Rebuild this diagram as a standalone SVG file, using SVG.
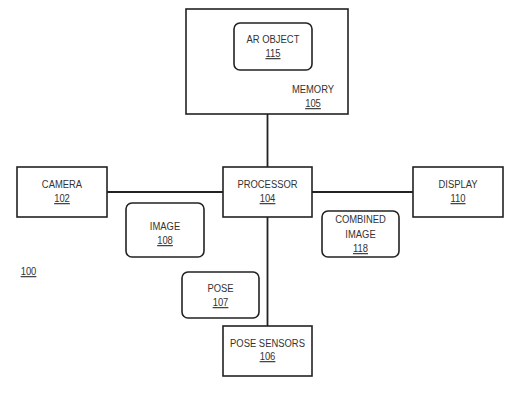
<svg xmlns="http://www.w3.org/2000/svg" width="525" height="393" viewBox="0 0 525 393">
<style>
.box{fill:#fff;stroke:#222;stroke-width:1.6}
.line{stroke:#222;stroke-width:1.8;fill:none}
text{font-family:"Liberation Sans",Arial,sans-serif;font-size:11.5px;fill:#333;text-anchor:middle}
.u{text-decoration:underline}
</style>
<rect width="525" height="393" fill="#fff"/>
<g id="connectors">
<line class="line" x1="267.5" y1="114" x2="267.5" y2="167"/>
<line class="line" x1="107" y1="192" x2="223" y2="192"/>
<line class="line" x1="312" y1="192" x2="413" y2="192"/>
<line class="line" x1="267.5" y1="217" x2="267.5" y2="326"/>
</g>
<g id="memory">
<rect class="box" x="186" y="9" width="162" height="105"/>
<g transform="translate(313,93) scale(0.82,1)"><text x="0" y="0">MEMORY</text></g>
<g transform="translate(313,107) scale(0.82,1)"><text class="u" x="0" y="0">105</text></g>
</g>
<g id="ar-object">
<rect class="box" x="234" y="23" width="78" height="47" rx="6"/>
<g transform="translate(273,43) scale(0.82,1)"><text x="0" y="0">AR OBJECT</text></g>
<g transform="translate(273,57) scale(0.82,1)"><text class="u" x="0" y="0">115</text></g>
</g>
<g id="camera">
<rect class="box" x="17" y="167" width="90" height="50"/>
<g transform="translate(62,188) scale(0.82,1)"><text x="0" y="0">CAMERA</text></g>
<g transform="translate(62,202) scale(0.82,1)"><text class="u" x="0" y="0">102</text></g>
</g>
<g id="processor">
<rect class="box" x="223" y="167" width="89" height="50"/>
<g transform="translate(267.5,188) scale(0.82,1)"><text x="0" y="0">PROCESSOR</text></g>
<g transform="translate(267.5,202) scale(0.82,1)"><text class="u" x="0" y="0">104</text></g>
</g>
<g id="display">
<rect class="box" x="413" y="167" width="90" height="50"/>
<g transform="translate(458,188) scale(0.82,1)"><text x="0" y="0">DISPLAY</text></g>
<g transform="translate(458,202) scale(0.82,1)"><text class="u" x="0" y="0">110</text></g>
</g>
<g id="image">
<rect class="box" x="126" y="203" width="78" height="54" rx="6"/>
<g transform="translate(165,230) scale(0.82,1)"><text x="0" y="0">IMAGE</text></g>
<g transform="translate(165,244) scale(0.82,1)"><text class="u" x="0" y="0">108</text></g>
</g>
<g id="combined-image">
<rect class="box" x="322" y="211" width="77" height="46" rx="6"/>
<g transform="translate(360.5,223) scale(0.82,1)"><text x="0" y="0">COMBINED</text></g>
<g transform="translate(360.5,238) scale(0.82,1)"><text x="0" y="0">IMAGE</text></g>
<g transform="translate(360.5,252) scale(0.82,1)"><text class="u" x="0" y="0">118</text></g>
</g>
<g id="pose">
<rect class="box" x="182" y="272" width="77" height="46" rx="6"/>
<g transform="translate(220.5,292) scale(0.82,1)"><text x="0" y="0">POSE</text></g>
<g transform="translate(220.5,306) scale(0.82,1)"><text class="u" x="0" y="0">107</text></g>
</g>
<g id="pose-sensors">
<rect class="box" x="223" y="326" width="89" height="50"/>
<g transform="translate(267.5,347) scale(0.82,1)"><text x="0" y="0">POSE SENSORS</text></g>
<g transform="translate(267.5,360) scale(0.82,1)"><text class="u" x="0" y="0">106</text></g>
</g>
<g id="label-100">
<g transform="translate(28.5,275) scale(0.82,1)"><text class="u" x="0" y="0">100</text></g>
</g>
</svg>
